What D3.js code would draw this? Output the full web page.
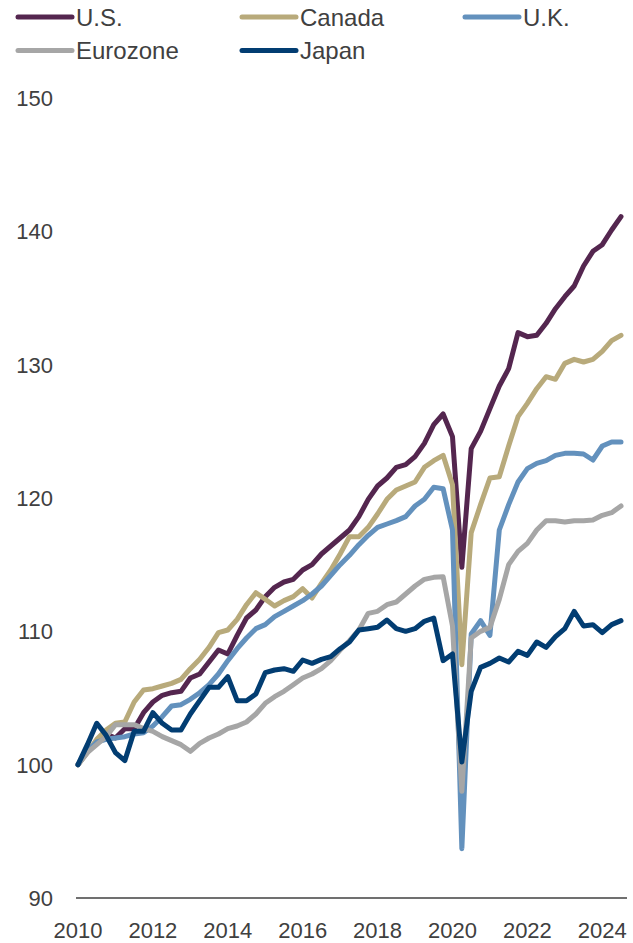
<!DOCTYPE html>
<html>
<head>
<meta charset="utf-8">
<script src="https://cdn.jsdelivr.net/npm/d3@7"></script>
<style>
  html, body { margin: 0; padding: 0; background: #ffffff; }
  svg { display: block; }
  text { font-family: "Liberation Sans", Arial, Helvetica, sans-serif; fill: #404040; }
</style>
</head>
<body>
<svg id="chart" width="633" height="943"></svg>
<script>
// Real GDP, indexed to 2010 Q1 = 100, quarterly 2010 Q1 – 2024 Q3
const quarters = [
  "2010Q1","2010Q2","2010Q3","2010Q4","2011Q1","2011Q2","2011Q3","2011Q4",
  "2012Q1","2012Q2","2012Q3","2012Q4","2013Q1","2013Q2","2013Q3","2013Q4",
  "2014Q1","2014Q2","2014Q3","2014Q4","2015Q1","2015Q2","2015Q3","2015Q4",
  "2016Q1","2016Q2","2016Q3","2016Q4","2017Q1","2017Q2","2017Q3","2017Q4",
  "2018Q1","2018Q2","2018Q3","2018Q4","2019Q1","2019Q2","2019Q3","2019Q4",
  "2020Q1","2020Q2","2020Q3","2020Q4","2021Q1","2021Q2","2021Q3","2021Q4",
  "2022Q1","2022Q2","2022Q3","2022Q4","2023Q1","2023Q2","2023Q3","2023Q4",
  "2024Q1","2024Q2","2024Q3"
];

const us = [
  100.0,101.0,101.7,102.3,102.0,102.7,102.7,103.9,
  104.7,105.2,105.4,105.5,106.5,106.8,107.7,108.6,
  108.3,109.7,111.0,111.6,112.6,113.3,113.7,113.9,
  114.6,115.0,115.8,116.4,117.0,117.6,118.6,119.9,
  120.9,121.5,122.3,122.5,123.1,124.1,125.5,126.3,
  124.6,114.8,123.7,125.0,126.7,128.4,129.7,132.4,
  132.1,132.2,133.1,134.2,135.1,135.9,137.4,138.5,
  139.0,140.1,141.1
];

const canada = [
  100.0,100.9,101.9,102.6,103.1,103.2,104.7,105.6,
  105.7,105.9,106.1,106.4,107.2,107.9,108.8,109.9,
  110.1,110.9,112.0,112.9,112.4,111.9,112.3,112.6,
  113.2,112.5,113.6,114.6,115.8,117.1,117.1,117.8,
  118.8,119.9,120.6,120.9,121.2,122.3,122.8,123.2,
  121.0,107.5,117.4,119.5,121.5,121.6,123.9,126.1,
  127.1,128.2,129.1,128.9,130.1,130.4,130.2,130.4,
  131.0,131.8,132.2
];

const uk = [
  100.0,101.0,101.7,101.9,102.0,102.1,102.3,102.4,
  102.9,103.6,104.4,104.5,104.9,105.4,106.0,106.8,
  107.8,108.7,109.5,110.2,110.5,111.1,111.5,111.9,
  112.3,112.8,113.4,114.2,115.0,115.7,116.5,117.2,
  117.8,118.05,118.3,118.6,119.4,119.9,120.8,120.7,
  117.6,93.7,109.8,110.8,109.7,117.6,119.5,121.2,
  122.2,122.6,122.8,123.2,123.35,123.35,123.3,122.85,
  123.9,124.2,124.2
];

const eurozone = [
  100.0,100.9,101.5,102.1,103.0,103.0,103.0,102.7,
  102.5,102.1,101.8,101.5,101.0,101.6,102.0,102.3,
  102.7,102.9,103.2,103.8,104.6,105.1,105.5,106.0,
  106.5,106.8,107.2,107.8,108.6,109.3,110.1,111.35,
  111.5,112.0,112.2,112.8,113.4,113.9,114.05,114.1,
  110.4,98.0,109.5,110.0,110.3,112.4,115.0,116.0,
  116.6,117.6,118.3,118.3,118.2,118.3,118.3,118.35,
  118.7,118.9,119.4
];

const japan = [
  100.0,101.5,103.1,102.2,100.9,100.3,102.5,102.5,
  103.9,103.1,102.6,102.6,103.8,104.8,105.8,105.8,
  106.6,104.8,104.8,105.3,106.9,107.1,107.2,107.0,
  107.85,107.6,107.9,108.1,108.7,109.2,110.1,110.2,
  110.3,110.85,110.2,110.0,110.2,110.75,111.0,107.8,
  108.3,100.2,105.5,107.3,107.6,108.0,107.7,108.5,
  108.2,109.2,108.8,109.6,110.2,111.5,110.4,110.5,
  109.9,110.5,110.8
];

const seriesNames = ["U.S.", "Canada", "U.K.", "Eurozone", "Japan"];
const seriesValues = [us, canada, uk, eurozone, japan];
const seriesColors = ["#54264f", "#b8aa7b", "#6391bd", "#a6a6a6", "#023d72"];

const yTicks = [90, 100, 110, 120, 130, 140, 150];
const xTickYears = [2010, 2012, 2014, 2016, 2018, 2020, 2022, 2024];

// quarter string -> fractional year
const qTime = q => +q.slice(0, 4) + (+q.slice(5) - 1) / 4;

const svg = d3.select("#chart");

const x = d3.scaleLinear().domain([2010, 2024.5]).range([78, 621]);
const y = d3.scaleLinear().domain([90, 150]).range([898, 98]);

// baseline axis
svg.append("line")
  .attr("x1", 76).attr("x2", 627)
  .attr("y1", y(90)).attr("y2", y(90))
  .attr("stroke", "#404040").attr("stroke-width", 1.6);

// y tick labels
svg.append("g").selectAll("text")
  .data(yTicks).join("text")
  .attr("x", 53)
  .attr("y", d => y(d) + 8)
  .attr("text-anchor", "end")
  .attr("font-size", 22)
  .text(d => d);

// x tick labels
svg.append("g").selectAll("text")
  .data(xTickYears).join("text")
  .attr("x", d => x(d))
  .attr("y", 938)
  .attr("text-anchor", "middle")
  .attr("font-size", 22)
  .text(d => d);

// lines
const line = d3.line()
  .x((d, i) => x(qTime(quarters[i])))
  .y(d => y(d));

svg.append("g").selectAll("path")
  .data(seriesValues).join("path")
  .attr("d", d => line(d))
  .attr("fill", "none")
  .attr("stroke", (d, i) => seriesColors[i])
  .attr("stroke-width", 5)
  .attr("stroke-linejoin", "round")
  .attr("stroke-linecap", "round");

// legend: two rows, three columns
const legendCols = [18, 242, 465];
const legendRows = [17, 50.5];
const legend = svg.append("g").selectAll("g")
  .data(seriesNames).join("g")
  .attr("transform", (d, i) => `translate(${legendCols[i % 3]},${legendRows[Math.floor(i / 3)]})`);

legend.append("line")
  .attr("x1", 0).attr("x2", 54)
  .attr("y1", 0).attr("y2", 0)
  .attr("stroke", (d, i) => seriesColors[i])
  .attr("stroke-width", 5)
  .attr("stroke-linecap", "round");

legend.append("text")
  .attr("x", 58)
  .attr("y", 8.7)
  .attr("font-size", 24)
  .text(d => d);
</script>
</body>
</html>
